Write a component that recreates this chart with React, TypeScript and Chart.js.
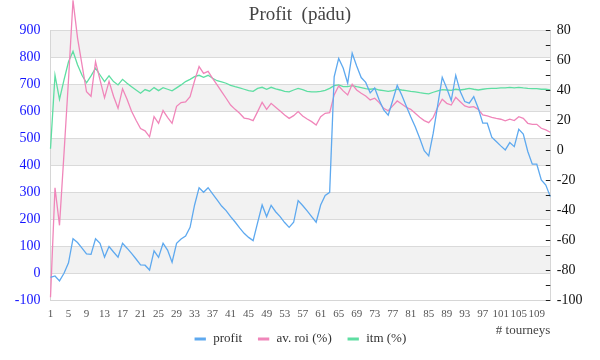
import React, { useEffect, useRef } from 'react';
import { Chart, registerables } from 'chart.js';

Chart.register(...registerables);

const TITLE = 'Profit  (pädu)';
const X_TITLE = '# tourneys';
const SERIES_NAMES = ['profit', 'av. roi (%)', 'itm (%)'];
const SERIES_COLORS = ['#5ea9ef', '#f086ba', '#5edea2'];

const profit = [
  -15, -10, -28, 0, 39, 128, 114, 93, 72, 70,
  128, 111, 60, 99, 79, 60, 111, 93, 74, 53,
  31, 30, 12, 83, 59, 111, 86, 41, 111, 127,
  138, 170, 253, 317, 300, 317, 294, 272, 249, 232,
  210, 190, 168, 148, 133, 121, 188, 253, 210, 252,
  228, 210, 188, 170, 189, 269, 251, 231, 210, 189,
  253, 288, 300, 728, 796, 760, 704, 815, 768, 725,
  707, 668, 686, 642, 605, 586, 640, 696, 660, 620,
  580, 543, 500, 454, 435, 519, 623, 726, 685, 640,
  733, 673, 636, 630, 654, 611, 556, 556, 504, 488,
  472, 457, 484, 469, 533, 516, 451, 404, 404, 346,
  327, 284,
];

const avRoi = [
  -98, -25, -50, -2, 47, 100, 75, 57, 39, 36,
  59, 47, 35, 46, 36, 28, 41, 34, 26, 20,
  14.5, 13, 9, 22.4, 18, 26.5, 22, 18, 29.3, 31.8,
  32.3, 35.8, 46.4, 55.8, 51.3, 52.6, 48, 43.6, 39.1, 34.7,
  30.2, 27.3, 24.7, 21.5, 21, 19.8, 25.8, 32, 27.3, 31.3,
  28.7, 26.2, 23.6, 21.3, 23.1, 25.8, 22.9, 20.9, 19.1, 16.9,
  22.4, 24.7, 25.1, 36.9, 42.9, 39.6, 36.9, 44, 40.2, 38,
  36.2, 33.6, 34.7, 31.8, 28, 26.4, 29.6, 32.9, 30.9, 28.7,
  27.3, 24.7, 22, 19.8, 18.4, 22, 28.7, 34, 31.3, 30.2,
  35.3, 32.4, 29.6, 28.7, 29.1, 27.3, 23.6, 22.9, 22, 21.3,
  20.7, 19.6, 20.7, 19.8, 22.4, 21.3, 18, 17.3, 17.3, 14.7,
  13.6, 12,
];

const itm = [
  1, 50, 34, 47, 59, 66, 57, 50, 45, 49.6,
  54.7, 50.2, 45.8, 49.6, 45.8, 43.6, 47.3, 44.7, 42.4, 40.2,
  38, 40.5, 39.4, 41.8, 39.8, 41.8, 40.7, 39.6, 41.6, 43.6,
  45.8, 47.3, 49.1, 50, 48.7, 50, 48, 46.4, 45.6, 44.7,
  43.3, 42.4, 41.6, 40.7, 39.8, 39.3, 41.3, 42, 40.7, 42,
  40.9, 40.2, 39.3, 38.9, 40.2, 41.3, 40.4, 39.3, 38.9, 38.9,
  39.3, 40, 41.3, 43.1, 43.6, 42.4, 42.4, 43.1, 42.4, 41.8,
  41.1, 40.7, 41.1, 40.2, 39.8, 39.3, 39.8, 40.7, 40.2, 39.8,
  39.3, 38.9, 38.4, 38, 37.6, 38.7, 39.6, 40.4, 40.2, 40,
  40.7, 40.2, 40.7, 41.3, 40.7, 40.2, 40.7, 41.1, 41.3, 41.3,
  41.6, 41.6, 42, 41.6, 42, 41.6, 41.3, 41.1, 41.1, 40.7,
  40.7, 40.2,
];

const tourneys = profit.map((_, i) => String(i + 1));
const X_LABEL_EVERY = 4;

const LEFT_MIN = -100;
const LEFT_MAX = 900;
const LEFT_STEP = 100;
const RIGHT_MIN = -100;
const RIGHT_MAX = 80;
const RIGHT_STEP = 20;
const RIGHT_MINOR_STEP = 10;

const SERIF = "'Liberation Serif', 'DejaVu Serif', serif";

const bandsPlugin = {
  id: 'bands',
  beforeDraw(chart: any) {
    const { ctx, chartArea, scales } = chart;
    const y = scales.y;
    ctx.save();
    ctx.fillStyle = '#f2f2f2';
    for (let v = LEFT_MIN; v < LEFT_MAX; v += LEFT_STEP) {
      const k = Math.round((v - LEFT_MIN) / LEFT_STEP);
      if (k % 2 === 1) {
        const top = y.getPixelForValue(v + LEFT_STEP);
        const bot = y.getPixelForValue(v);
        ctx.fillRect(chartArea.left, top, chartArea.right - chartArea.left, bot - top);
      }
    }
    ctx.restore();
  },
  afterDraw(chart: any) {
    const { ctx, scales } = chart;
    const s = scales.y1;
    ctx.save();
    ctx.strokeStyle = '#222';
    ctx.lineWidth = 1;
    ctx.beginPath();
    for (let v = RIGHT_MIN; v <= RIGHT_MAX; v += RIGHT_MINOR_STEP) {
      const py = Math.round(s.getPixelForValue(v)) + 0.5;
      ctx.moveTo(s.left - 4.5, py);
      ctx.lineTo(s.left, py);
    }
    ctx.stroke();
    ctx.restore();
  },
};

export default function App() {
  const ref = useRef<HTMLCanvasElement | null>(null);

  useEffect(() => {
    if (!ref.current) return;
    const series = [profit, avRoi, itm];
    const chart = new Chart(ref.current, {
      type: 'line',
      data: {
        labels: tourneys,
        datasets: series.map((d, i) => ({
          label: SERIES_NAMES[i],
          data: d,
          borderColor: SERIES_COLORS[i],
          backgroundColor: SERIES_COLORS[i],
          borderWidth: 1.3,
          pointRadius: 0,
          pointHoverRadius: 0,
          tension: 0,
          yAxisID: i === 0 ? 'y' : 'y1',
          clip: false,
        })),
      },
      options: {
        responsive: false,
        animation: false,
        events: [],
        layout: { padding: { left: 0, right: 0, top: 0, bottom: 4.5 } },
        plugins: {
          tooltip: { enabled: false },
          title: {
            display: true,
            text: TITLE,
            color: '#444',
            font: { family: SERIF, size: 19, weight: 'normal' },
            padding: { top: 3.5, bottom: 4 },
          },
          legend: {
            position: 'bottom',
            labels: {
              usePointStyle: true,
              pointStyle: 'line',
              boxHeight: 8,
              padding: 15,
              color: '#333',
              font: { family: SERIF, size: 13 },
              generateLabels: (c: any) =>
                (Chart.defaults.plugins.legend.labels.generateLabels as any)(c).map((l: any) => ({
                  ...l,
                  lineWidth: 3,
                })),
            },
          },
        },
        scales: {
          x: {
            type: 'category',
            offset: false,
            grid: { display: false, drawTicks: false },
            border: { display: true, color: '#d6d6d6' },
            ticks: {
              autoSkip: false,
              maxRotation: 0,
              minRotation: 0,
              padding: 7,
              color: '#555',
              font: { family: SERIF, size: 11 },
              callback: (_v: any, idx: number) => (idx % X_LABEL_EVERY === 0 ? tourneys[idx] : ''),
            },
            title: {
              display: true,
              text: X_TITLE,
              align: 'end',
              color: '#444',
              font: { family: SERIF, size: 13 },
              padding: { top: 0, bottom: -21 },
            },
            afterFit: (s: any) => {
              const lh = s.chart.legend ? s.chart.legend.height : 38;
              s.height = Math.max(0, 360 - 4.5 - lh - 300.3);
            },
          },
          y: {
            position: 'left',
            min: LEFT_MIN,
            max: LEFT_MAX,
            grid: { color: '#dadada', drawTicks: false },
            border: { display: true, color: '#d6d6d6' },
            ticks: {
              stepSize: LEFT_STEP,
              padding: 10,
              color: '#1414ff',
              font: { family: SERIF, size: 14 },
            },
            afterFit: (s: any) => {
              s.width = 50.5;
            },
          },
          y1: {
            position: 'right',
            min: RIGHT_MIN,
            max: RIGHT_MAX,
            grid: { display: false, drawTicks: false },
            border: { display: true, color: '#d6d6d6' },
            ticks: {
              stepSize: RIGHT_STEP,
              padding: 6.5,
              color: '#111',
              font: { family: SERIF, size: 14 },
            },
            afterFit: (s: any) => {
              s.width = 49.7;
            },
          },
        },
      },
      plugins: [bandsPlugin],
    } as any);
    return () => chart.destroy();
  }, []);

  return (
    <div style={{ position: 'fixed', left: 0, top: 0, width: 600, height: 360, background: '#fff' }}>
      <canvas ref={ref} width={600} height={360} style={{ display: 'block', width: 600, height: 360 }} />
    </div>
  );
}
